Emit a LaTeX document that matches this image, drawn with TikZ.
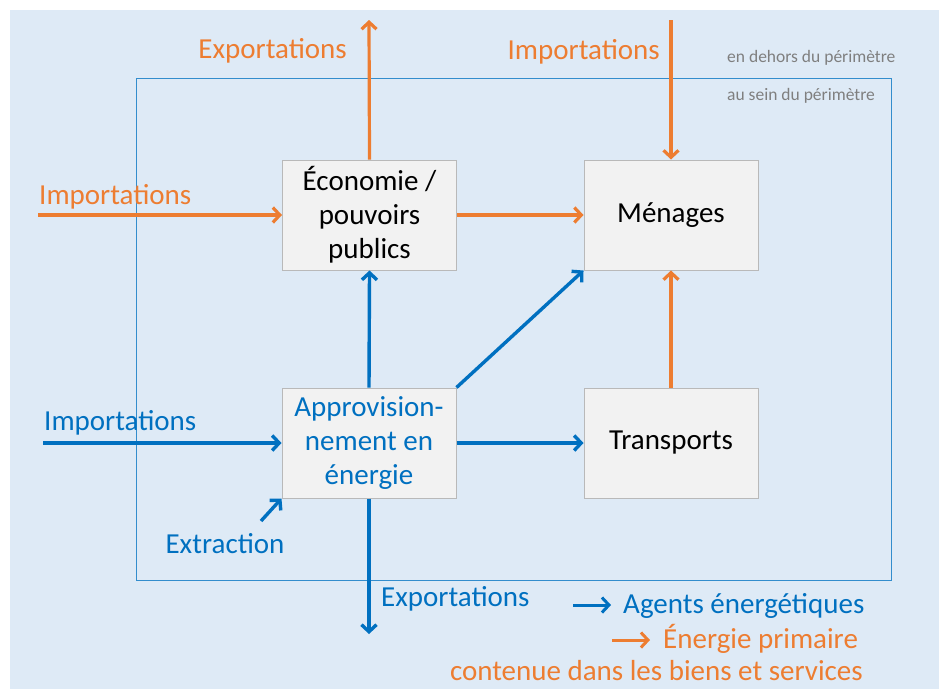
\documentclass[tikz,border=0pt]{standalone}
\usepackage{fontspec}
\setmainfont{Carlito}
\usetikzlibrary{arrows.meta}
\definecolor{fond}{HTML}{DEEAF6}
\definecolor{bleu}{HTML}{0070C0}
\definecolor{orange}{HTML}{ED7D31}
\definecolor{gris}{HTML}{7F7F7F}
\tikzset{
  secteur/.style={draw=gray!55, fill=gray!10, line width=1pt, minimum width=174pt,
    minimum height=110pt, inner sep=0pt, align=center,
    font=\fontsize{29}{34}\selectfont},
  etiquette/.style={inner sep=0pt, font=\fontsize{29}{34}\selectfont},
  petit/.style={inner sep=0pt, text=gris, font=\fontsize{17.5}{20}\selectfont},
  fluxbleu/.style={draw=bleu, line width=3.4pt, -{Straight Barb[length=7pt,width=15pt]}},
  fluxorange/.style={draw=orange, line width=3.2pt, -{Straight Barb[length=7pt,width=15pt]}}
}
\begin{document}
\begin{tikzpicture}[x=1pt,y=-1pt]
	\useasboundingbox (0,0) rectangle (939,689);
	\fill[white] (0,0) rectangle (939,689);
	\fill[fond] (10,10) rectangle (939,689);
	\draw[bleu!80, line width=1pt] (136,78) rectangle (891,580);
	% secteurs
	\node[secteur] (eco) at (369.5,215) {Économie /\\pouvoirs\\publics};
	\node[secteur] (menages) at (671,215) {Ménages};
	\node[secteur] (transports) at (671,443) {Transports};
	\node[secteur, text=bleu] (appro) at (369,443) {Approvision-\\nement en\\énergie};
	% extremites libres
	\coordinate (expoH) at (369,20);
	\coordinate (impoH) at (671,20);
	\coordinate (impoG) at (38,215);
	\coordinate (impoB) at (43,443);
	\coordinate (extr) at (261,521);
	\coordinate (expoB) at (369,634);
	% flux orange
	\draw[fluxorange] (eco.north) -- (expoH);
	\draw[fluxorange] (impoH) -- (menages.north);
	\draw[fluxorange] (impoG) -- (eco.west);
	\draw[fluxorange] (eco.east) -- (menages.west);
	\draw[fluxorange] (transports.north) -- (menages.south);
	% flux bleu
	\draw[fluxbleu] (appro.north) -- (eco.south);
	\draw[fluxbleu] (appro.north east) -- (menages.south west);
	\draw[fluxbleu] (appro.east) -- (transports.west);
	\draw[fluxbleu] (impoB) -- (appro.west);
	\draw[fluxbleu] (extr) -- (appro.south west);
	\draw[fluxbleu] (appro.south) -- (expoB);
	% textes
	\node[etiquette, text=orange, anchor=east] (lexpoH) at (347,51) {Exportations};
	\node[etiquette, text=orange, anchor=east] (limpoH) at (660,52) {Importations};
	\node[etiquette, text=orange, anchor=west] (limpoG) at (39,197) {Importations};
	\node[etiquette, text=bleu, anchor=west] (limpoB) at (44,423) {Importations};
	\node[etiquette, text=bleu] (lextr) at (225,544) {Extraction};
	\node[etiquette, text=bleu, anchor=west] (lexpoB) at (381,599) {Exportations};
	\node[petit, anchor=west] (dehors) at (727,58) {en dehors du périmètre};
	\node[petit, anchor=west] (sein) at (727,96) {au sein du périmètre};
	% legende
	\coordinate (legA1) at (573,605);
	\coordinate (legA2) at (611,605);
	\coordinate (legB1) at (612,640);
	\coordinate (legB2) at (650,640);
	\draw[fluxbleu, line width=3pt] (legA1) -- (legA2);
	\draw[fluxorange, line width=3pt] (legB1) -- (legB2);
	\node[etiquette, text=bleu, anchor=west] (agents) at (623,606) {Agents énergétiques};
	\node[etiquette, text=orange, anchor=west] (primaire) at (663,639) {Énergie primaire};
	\node[etiquette, text=orange, anchor=east] (contenue) at (863,671) {contenue dans les biens et services};
\end{tikzpicture}
\end{document}
